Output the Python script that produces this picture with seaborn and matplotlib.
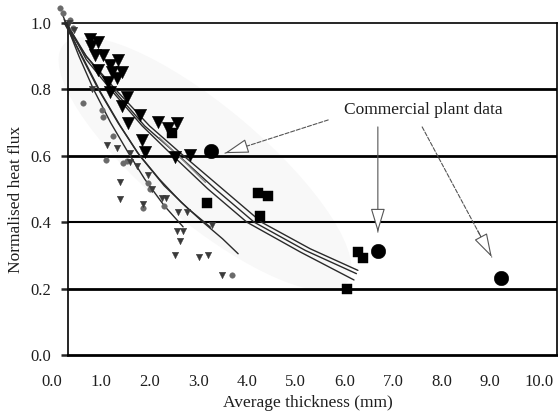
import numpy as np
import pandas as pd
import matplotlib
matplotlib.use("Agg")
import matplotlib.pyplot as plt
from matplotlib.patches import Ellipse
import seaborn as sns

# ---------------- data ----------------
big_tri_x = [0.78, 0.94, 0.80, 0.88, 1.05, 0.94, 1.19, 1.36, 1.23, 1.44, 1.33, 1.15, 1.19,
             1.54, 1.44, 1.81, 1.56, 2.18, 2.57, 2.38, 1.85, 1.91, 2.53, 2.83]
big_tri_y = [0.952, 0.943, 0.930, 0.904, 0.904, 0.858, 0.873, 0.889, 0.852, 0.852, 0.834, 0.822, 0.792,
             0.777, 0.750, 0.723, 0.699, 0.702, 0.699, 0.684, 0.648, 0.611, 0.596, 0.602]

small_tri_x = [0.35, 0.45, 0.82, 1.13, 1.33, 1.60, 1.60, 1.40, 1.40, 1.87, 1.97, 2.26, 2.33,
               2.59, 2.77, 2.57, 2.69, 2.63, 2.53, 3.02, 3.20, 3.49, 3.29, 1.75, 2.05]
small_tri_y = [1.000, 0.980, 0.800, 0.633, 0.623, 0.608, 0.581, 0.521, 0.470, 0.455, 0.542, 0.473, 0.473,
               0.431, 0.431, 0.373, 0.373, 0.343, 0.301, 0.295, 0.301, 0.241, 0.392, 0.570, 0.500]

small_circ_x = [0.16, 0.22, 0.37, 0.43, 0.64, 1.03, 1.05, 1.10, 1.46, 1.53, 1.87, 1.97, 2.01,
                3.70, 1.25, 2.30]
small_circ_y = [1.045, 1.030, 1.010, 0.985, 0.759, 0.738, 0.717, 0.587, 0.578, 0.585, 0.443, 0.518, 0.500,
                0.241, 0.660, 0.450]

square_x = [2.46, 3.18, 4.23, 4.44, 4.27, 6.28, 6.39, 6.06]
square_y = [0.669, 0.458, 0.488, 0.479, 0.419, 0.310, 0.292, 0.199]

plant_circ_x = [3.27, 6.69, 9.22]
plant_circ_y = [0.615, 0.313, 0.232]

# fitted curves
curve_d_x = [0.20, 0.55, 0.85, 1.20, 1.56, 1.90, 2.30, 2.69]
curve_d_y = [1.030, 0.900, 0.800, 0.700, 0.610, 0.530, 0.450, 0.386]
curve_e_x = [0.25, 0.60, 0.95, 1.35, 1.75, 2.20, 2.65, 3.10, 3.50, 3.82]
curve_e_y = [1.010, 0.900, 0.800, 0.700, 0.610, 0.530, 0.460, 0.400, 0.350, 0.305]
curve_f_x = [0.25, 0.65, 1.00, 1.40, 1.80, 2.30, 2.80, 3.25]
curve_f_y = [1.000, 0.890, 0.790, 0.690, 0.600, 0.510, 0.440, 0.385]
curve_a_x = [0.25, 0.70, 1.30, 2.00, 2.70, 3.50, 4.30, 5.30, 6.28]
curve_a_y = [1.010, 0.900, 0.800, 0.690, 0.600, 0.500, 0.400, 0.320, 0.255]
curve_b_x = [0.25, 0.70, 1.25, 1.90, 2.60, 3.35, 4.15, 5.20, 6.25]
curve_b_y = [1.000, 0.900, 0.800, 0.690, 0.600, 0.500, 0.400, 0.315, 0.245]
curve_c_x = [0.30, 0.70, 1.20, 1.85, 2.48, 3.20, 4.00, 5.10, 6.20]
curve_c_y = [1.000, 0.890, 0.800, 0.690, 0.600, 0.500, 0.400, 0.310, 0.226]
curve_g_x = [2.20, 2.70, 3.15]
curve_g_y = [0.655, 0.585, 0.520]

x_ticks = [0, 1, 2, 3, 4, 5, 6, 7, 8, 9, 10]
x_tick_labels = ["0.0", "1.0", "2.0", "3.0", "4.0", "5.0", "6.0", "7.0", "8.0", "9.0", "10.0"]
y_ticks = [0.0, 0.2, 0.4, 0.6, 0.8, 1.0]
y_tick_labels = ["0.0", "0.2", "0.4", "0.6", "0.8", "1.0"]
grid_levels = [0.2, 0.4, 0.6, 0.8]

annotation_text = "Commercial plant data"
x_label = "Average thickness (mm)"
y_label = "Normalised heat flux"

# ---------------- style ----------------
sns.set_style("white")
plt.rcParams["font.family"] = ["Liberation Serif", "DejaVu Serif"]
TXT = "#1e1e1e"

fig = plt.figure(figsize=(5.58, 4.16), dpi=100)
ax = fig.add_axes([40 / 558, (416 - 355) / 416, 517 / 558, 348.6 / 416])
X0, X1 = -0.25, 10.37
FRAME_L = 0.33
ax.set_xlim(X0, X1)
ax.set_ylim(0, 1.05)

# faint shaded band behind the small-marker data
ell = Ellipse((2.05, 2.52), 3.7, 1.15, angle=-40, transform=fig.dpi_scale_trans,
              facecolor="#f8f8f8", edgecolor="none", zorder=0)
ax.add_patch(ell)

# grid lines
for g in grid_levels:
    ax.hlines(g, FRAME_L, X1, color="black", lw=2.0 if g != 0.4 else 1.5, zorder=1)

# curves
curves = [(curve_d_x, curve_d_y), (curve_e_x, curve_e_y), (curve_f_x, curve_f_y),
          (curve_a_x, curve_a_y), (curve_b_x, curve_b_y), (curve_c_x, curve_c_y)]
for cx, cy in curves:
    sns.lineplot(x=cx, y=cy, ax=ax, color="#2a2a2a", lw=1.0, sort=False,
                 estimator=None, zorder=3)
sns.lineplot(x=curve_g_x, y=curve_g_y, ax=ax, color="#8a8a8a", lw=1.0, sort=False,
             estimator=None, zorder=3)

# markers
sns.scatterplot(x=small_circ_x, y=small_circ_y, ax=ax, marker="o", s=16,
                color="#6a6a6a", edgecolor="#6a6a6a", linewidth=0.3, zorder=4, clip_on=False)
sns.scatterplot(x=small_tri_x, y=small_tri_y, ax=ax, marker="v", s=22,
                color="#3a3a3a", edgecolor="#3a3a3a", linewidth=0.3, zorder=4)
sns.scatterplot(x=big_tri_x, y=big_tri_y, ax=ax, marker="v", s=80,
                color="black", edgecolor="black", linewidth=0.3, zorder=5)
sns.scatterplot(x=square_x, y=square_y, ax=ax, marker="s", s=60,
                color="black", edgecolor="black", linewidth=0.3, zorder=5)
sns.scatterplot(x=plant_circ_x, y=plant_circ_y, ax=ax, marker="o", s=110,
                color="black", edgecolor="black", linewidth=0.3, zorder=5)

# spines
for side in ["left", "right", "top", "bottom"]:
    ax.spines[side].set_visible(True)
    ax.spines[side].set_color("black")
ax.spines["left"].set_position(("data", FRAME_L))
ax.spines["left"].set_bounds(0, 1.0)
ax.spines["left"].set_linewidth(1.2)
ax.spines["right"].set_bounds(0, 1.0)
ax.spines["right"].set_linewidth(1.2)
ax.spines["top"].set_position(("data", 1.0))
ax.spines["top"].set_bounds(FRAME_L, X1)
ax.spines["top"].set_linewidth(1.2)
ax.spines["bottom"].set_bounds(FRAME_L, X1)
ax.spines["bottom"].set_linewidth(2.0)

# ticks
ax.set_xticks(x_ticks)
ax.set_xticklabels(x_tick_labels, fontsize=12, color=TXT)
ax.set_yticks(y_ticks)
ax.set_yticklabels(y_tick_labels, fontsize=12, color=TXT)
ax.tick_params(axis="x", length=0, pad=14)
ax.tick_params(axis="y", direction="out", length=5, width=1.8, pad=7, left=True)

ax.set_xlabel(x_label, fontsize=12.5, color=TXT)
ax.xaxis.set_label_coords(0.518, -0.115)
ax.set_ylabel(y_label, fontsize=12.5, color=TXT)
ax.yaxis.set_label_coords(-0.03, 0.445)

# annotation text and arrows
ax.text(7.63, 0.738, annotation_text, fontsize=12.5, color=TXT, ha="center", va="center")

head = dict(arrowstyle="-|>,head_length=1.5,head_width=0.45", fc="white", ec="#555555",
            lw=0.8, shrinkA=0, shrinkB=0, mutation_scale=10)
arrows = [((5.67, 0.708), (3.55, 0.608), "--"),
          ((6.69, 0.687), (6.69, 0.370), "-"),
          ((7.60, 0.687), (9.03, 0.295), "--")]
for (sx, sy), (ex, ey), ls in arrows:
    ax.annotate("", xy=(ex, ey), xytext=(sx, sy),
                arrowprops=dict(arrowstyle="-", color="#555555", lw=0.8, ls=ls,
                                shrinkA=0, shrinkB=0), zorder=6)
    fx = sx + 0.8 * (ex - sx)
    fy = sy + 0.8 * (ey - sy)
    ax.annotate("", xy=(ex, ey), xytext=(fx, fy), arrowprops=head, zorder=7)

fig.savefig("out.png", dpi=100)
